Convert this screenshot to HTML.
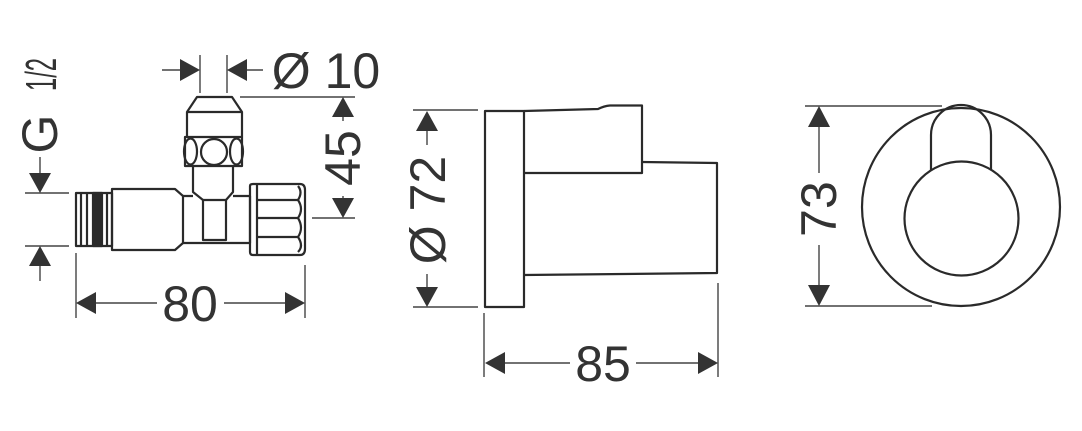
<!DOCTYPE html>
<html><head><meta charset="utf-8"><style>
html,body{margin:0;padding:0;background:#fff;}
svg{display:block}
text{font-family:"Liberation Sans",sans-serif;fill:#333;}
</style></head><body>
<svg width="1082" height="431" viewBox="0 0 1082 431" xmlns="http://www.w3.org/2000/svg">
<g stroke="#2a2a2a" stroke-width="2.2" fill="none" stroke-linejoin="round">
<rect x="76" y="193" width="36" height="53"/>
<line x1="81" y1="193" x2="81" y2="246"/>
<line x1="87" y1="193" x2="87" y2="246"/>
<line x1="107" y1="193" x2="107" y2="246"/>
<rect x="93" y="193" width="9" height="53" fill="#2a2a2a"/>
<path d="M112 189 H175 L183 196 V243 L175 250 H112 Z"/>
<path d="M183 196 H193 M233 196 H250 V243 H183"/>
<rect x="203" y="200" width="23" height="40"/>
<path d="M193 166 V192 L203 200 M233 166 V192 L226 200"/>
<rect x="185" y="137" width="57" height="29"/>
<ellipse cx="190.5" cy="151.5" rx="6.5" ry="13"/>
<circle cx="214" cy="152" r="13"/>
<ellipse cx="236.5" cy="151.5" rx="6.5" ry="13"/>
<path d="M187 137 V112 L197 97 H232 L242 112 V137"/>
<line x1="187" y1="112" x2="242" y2="112"/>
<path d="M250 186 Q250 184 253 184 H300 Q305 184 305 190 V249 Q305 255 300 255 H253 Q250 255 250 252 Z"/>
<line x1="257" y1="184" x2="257" y2="255"/>
<path d="M257 200 H298 Q304 209 298 218 H257 M298 218 Q304 228 298 237 H257 M298 237 Q304 246 298 252"/>
<path d="M298 200 Q303 192 298 186"/>

<rect x="485" y="111" width="39" height="196"/>
<path d="M524 111 L598 109 Q604 106 610 105.5 H642 V173 H524"/>
<path d="M642 162 L717 163 V273 L524 275"/>

<circle cx="961" cy="207" r="99"/>
<circle cx="961.5" cy="218.5" r="57"/>
<path d="M931 170 V135 A30 30 0 0 1 991 135 V170"/>
</g>

<g stroke="#444" stroke-width="1.4" fill="none">
<line x1="40" y1="157" x2="40" y2="175"/>
<line x1="40" y1="264" x2="40" y2="281"/>
<line x1="25" y1="193" x2="69" y2="193"/>
<line x1="25" y1="246" x2="69" y2="246"/>
<line x1="200" y1="55" x2="200" y2="93"/>
<line x1="227" y1="55" x2="227" y2="93"/>
<line x1="162" y1="70" x2="182" y2="70"/>
<line x1="245" y1="70" x2="263" y2="70"/>
<line x1="240" y1="97" x2="355" y2="97"/>
<line x1="312" y1="218" x2="355" y2="218"/>
<line x1="343" y1="115" x2="343" y2="121"/>
<line x1="343" y1="196" x2="343" y2="200"/>
<line x1="76" y1="253" x2="76" y2="318"/>
<line x1="305" y1="265" x2="305" y2="318"/>
<line x1="94" y1="303" x2="157" y2="303"/>
<line x1="224" y1="303" x2="287" y2="303"/>
<line x1="413" y1="110" x2="478" y2="110"/>
<line x1="413" y1="307" x2="478" y2="307"/>
<line x1="427" y1="128" x2="427" y2="145"/>
<line x1="427" y1="274" x2="427" y2="289"/>
<line x1="484" y1="313" x2="484" y2="377"/>
<line x1="718" y1="283" x2="718" y2="377"/>
<line x1="502" y1="363" x2="570" y2="363"/>
<line x1="636" y1="363" x2="700" y2="363"/>
<line x1="805" y1="106" x2="942" y2="106"/>
<line x1="805" y1="306" x2="932" y2="306"/>
<line x1="819" y1="125" x2="819" y2="173"/>
<line x1="819" y1="245" x2="819" y2="288"/>
</g>

<g fill="#333">
<polygon points="40,193 29,173 51,173"/>
<polygon points="40,246 29,266 51,266"/>
<polygon points="200,70 180,59 180,81"/>
<polygon points="227,70 247,59 247,81"/>
<polygon points="343,97 332,117 354,117"/>
<polygon points="343,218 332,198 354,198"/>
<polygon points="76,303 96,292 96,314"/>
<polygon points="305,303 285,292 285,314"/>
<polygon points="427,111 416,131 438,131"/>
<polygon points="427,307 416,287 438,287"/>
<polygon points="485,363 505,352 505,374"/>
<polygon points="718,363 698,352 698,374"/>
<polygon points="819,106 808,127 830,127"/>
<polygon points="819,306 808,285 830,285"/>
</g>

<text x="326" y="88" font-size="50" text-anchor="middle">Ø 10</text>
<text x="190" y="321" font-size="50" text-anchor="middle">80</text>
<text x="603" y="381" font-size="50" text-anchor="middle">85</text>
<text transform="translate(360,158) rotate(-90)" font-size="50" text-anchor="middle">45</text>
<text transform="translate(445,210) rotate(-90)" font-size="50" text-anchor="middle">Ø 72</text>
<text transform="translate(836,209) rotate(-90)" font-size="50" text-anchor="middle">73</text>
<text transform="translate(57,134) rotate(-90)" font-size="50" text-anchor="middle">G</text>
<text transform="translate(56,91) rotate(-90)" font-size="44" textLength="33" lengthAdjust="spacingAndGlyphs">1/2</text>
</svg>
</body></html>
